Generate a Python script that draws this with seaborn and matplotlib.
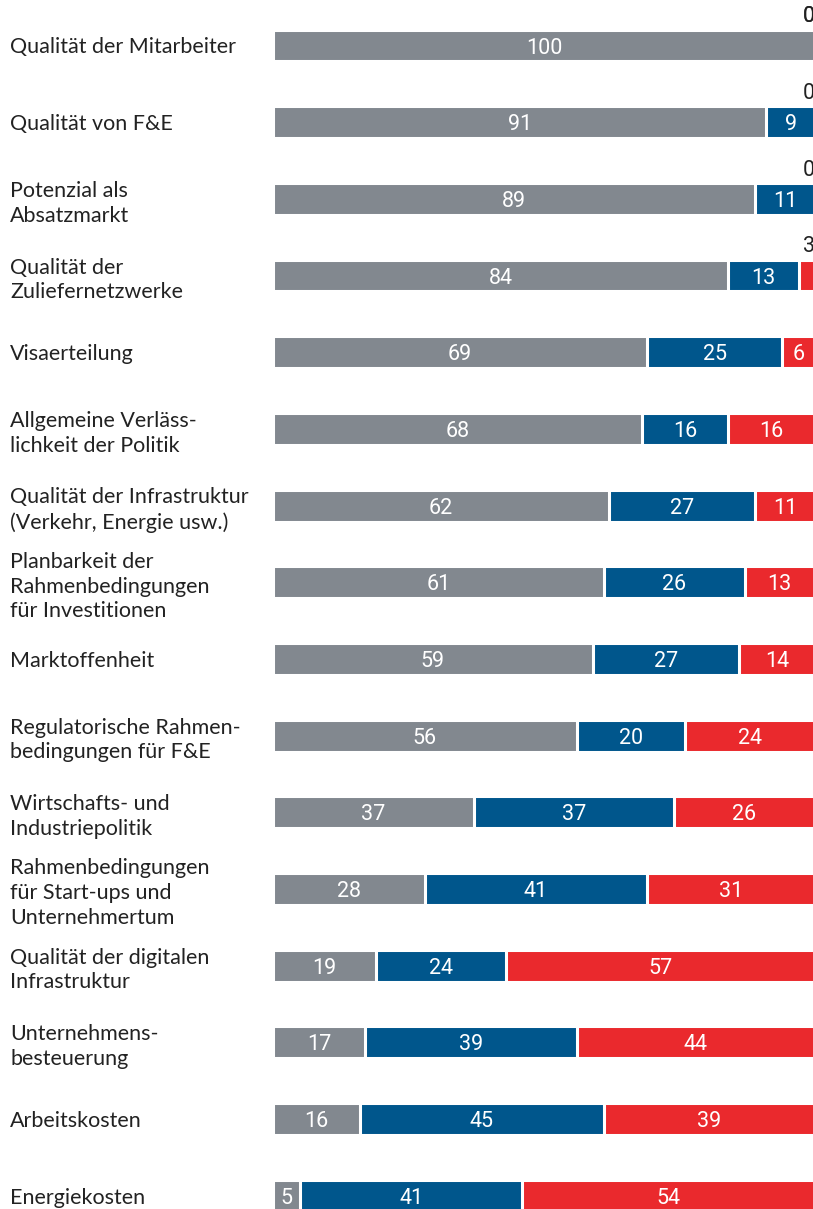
import pandas as pd
import matplotlib
matplotlib.use("Agg")
import matplotlib.pyplot as plt
import seaborn as sns

# --- Data ---
categories = [
    "Qualität der Mitarbeiter",
    "Qualität von F&E",
    "Potenzial als\nAbsatzmarkt",
    "Qualität der\nZuliefernetzwerke",
    "Visaerteilung",
    "Allgemeine Verläss-\nlichkeit der Politik",
    "Qualität der Infrastruktur\n(Verkehr, Energie usw.)",
    "Planbarkeit der\nRahmenbedingungen\nfür Investitionen",
    "Marktoffenheit",
    "Regulatorische Rahmen-\nbedingungen für F&E",
    "Wirtschafts- und\nIndustriepolitik",
    "Rahmenbedingungen\nfür Start-ups und\nUnternehmertum",
    "Qualität der digitalen\nInfrastruktur",
    "Unternehmens-\nbesteuerung",
    "Arbeitskosten",
    "Energiekosten",
]
grau = [100, 91, 89, 84, 69, 68, 62, 61, 59, 56, 37, 28, 19, 17, 16, 5]
blau = [0, 9, 11, 13, 25, 16, 27, 26, 27, 20, 37, 41, 24, 39, 45, 41]
rot = [0, 0, 0, 3, 6, 16, 11, 13, 14, 24, 26, 31, 57, 44, 39, 54]

df = pd.DataFrame({"Kategorie": categories, "grau": grau, "blau": blau, "rot": rot})
df["bis_blau"] = df["grau"] + df["blau"]
df["gesamt"] = df["bis_blau"] + df["rot"]

c_grau = "#82888f"
c_blau = "#00568c"
c_rot = "#ea292d"

# --- Plot ---
sns.set_style("white")
plt.rcParams["font.family"] = ["Lato", "DejaVu Sans"]

fig = plt.figure(figsize=(8.13, 12.09), dpi=100)
# axes in pixels: bars start at x=273 and run to the right edge
W, H = 813, 1209
pitch = 76.67
top = 45.5 - pitch / 2
bottom = 45.5 + 15.5 * pitch
ax = fig.add_axes([273 / W, 1 - bottom / H, 542 / W, (bottom - top) / H])

bw = 0.417
kw = dict(orient="h", width=bw, saturation=1, edgecolor="white", linewidth=2.2, ax=ax)
# stacked bars: draw cumulative totals on top of each other
sns.barplot(data=df, x="gesamt", y="Kategorie", color=c_rot, **kw)
sns.barplot(data=df, x="bis_blau", y="Kategorie", color=c_blau, **kw)
sns.barplot(data=df, x="grau", y="Kategorie", color=c_grau, **kw)

ax.set_xlim(0, 100)
ax.set_ylim(15.5, -0.5)
ax.set_xlabel("")
ax.set_ylabel("")
ax.set_xticks([])
sns.despine(ax=ax, left=True, bottom=True)

ax.tick_params(axis="y", length=0, pad=263 * 0.72)
for lbl in ax.get_yticklabels():
    lbl.set_horizontalalignment("left")
    lbl.set_fontsize(15.5)
    lbl.set_color("#222222")
    lbl.set_linespacing(1.3)

# value labels
num_font = dict(fontsize=15.5, family=["Roboto", "DejaVu Sans"])
for i, row in df.iterrows():
    left = 0
    for col in ["grau", "blau", "rot"]:
        v = row[col]
        x = left + v / 2
        if v >= 5:
            ax.text(x, i, str(v), ha="center", va="center_baseline", color="white", **num_font)
        else:
            # tiny segments: label above the bar, kept inside the picture
            ha = "center"
            if x > 98:
                x, ha = 100, "right"
            ax.text(x, i - bw / 2 - 0.03, str(v), ha=ha, va="bottom",
                    color="#222222", **num_font)
        left += v

fig.savefig("out.png", dpi=100)
